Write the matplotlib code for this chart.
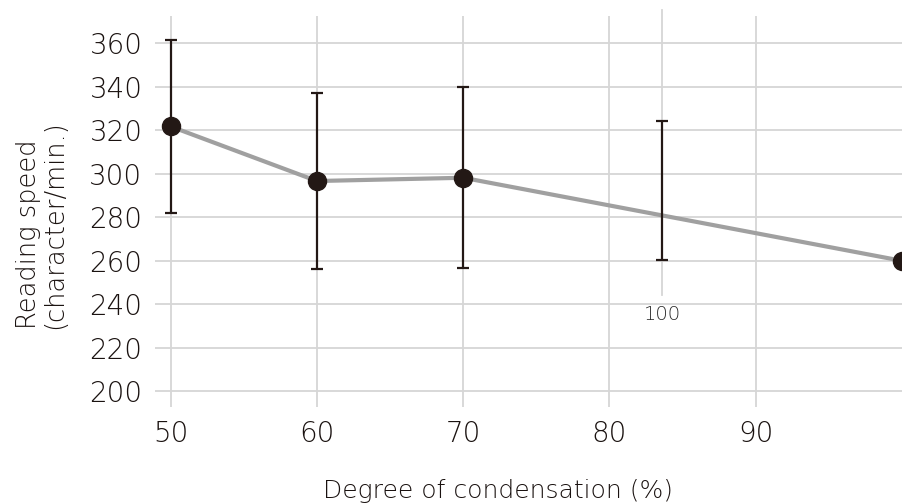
import matplotlib
matplotlib.use("Agg")
import matplotlib.pyplot as plt

plt.rcParams['font.family'] = ['DejaVu Sans']

# Data
condensation = [50, 60, 70, 100]
speed_mean = [321.8, 296.7, 298.2, 260.0]
speed_sd = [39.7, 40.6, 41.7, 0.0]

# stray error bar / "100" label as drawn in the reference
stray_x = 83.6
stray_low = 260.4
stray_high = 324.3
stray_label = "100"

xticks = [50, 60, 70, 80, 90]
yticks = [200, 220, 240, 260, 280, 300, 320, 340, 360]

dark = "#231815"
grid = "#d6d6d6"

fig = plt.figure(figsize=(9.02, 5.03), dpi=100)
ax = fig.add_axes([155/902, 96.3/503, 747/902, 390.7/503])

ax.set_xlim(48.93, 100)
ax.set_ylim(192.9, 372.6)
ax.set_xticks(xticks)
ax.set_yticks(yticks)
ax.grid(True, color=grid, linewidth=1.3)
ax.set_axisbelow(True)
for s in ax.spines.values():
    s.set_visible(False)
ax.tick_params(length=0, labelsize=20, labelcolor="#1a1210")
ax.tick_params(axis='y', pad=9.0)
ax.tick_params(axis='x', pad=9.5)
for lbl in ax.get_xticklabels() + ax.get_yticklabels():
    lbl.set_fontweight('light')

# stray vertical line and label
ax.plot([stray_x, stray_x], [244.3, 375.4], color=grid, linewidth=1.3, clip_on=False, zorder=1)
ax.text(stray_x, 235.2, stray_label, ha='center', va='center', fontsize=14,
        color="#2a2a2a", fontweight='light')

ax.plot(condensation, speed_mean, color="#a0a0a0", linewidth=3, zorder=2)
ax.errorbar(condensation[:3], speed_mean[:3], yerr=speed_sd[:3], fmt='none',
            ecolor=dark, elinewidth=1.6, capsize=4.2, capthick=1.6, zorder=3)
ax.errorbar([stray_x], [(stray_low + stray_high) / 2], yerr=[(stray_high - stray_low) / 2],
            fmt='none', ecolor=dark, elinewidth=1.6, capsize=4.2, capthick=1.6, zorder=3)
ax.plot(condensation, speed_mean, 'o', color=dark, markersize=13, zorder=4)

fig.text(498/902, 1 - 491/503, "Degree of condensation (%)", ha='center', va='center',
         fontsize=18, color="#1a1210", fontweight='light')
fig.text(42/902, 1 - 329/503, "Reading speed\n(character/min.)", ha='center', va='bottom',
         rotation=90, fontsize=18.5, color="#1a1210", multialignment='left', linespacing=1.05,
         fontweight='light')

fig.savefig("out.png", dpi=100)
